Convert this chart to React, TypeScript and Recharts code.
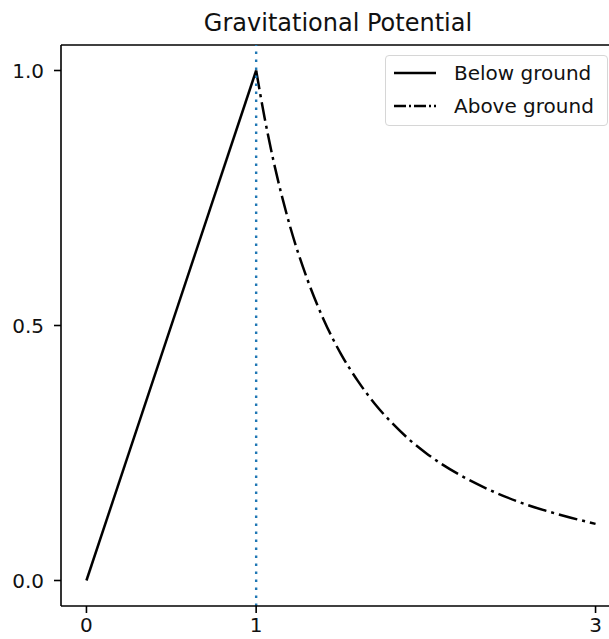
import { Legend, Line, LineChart, ReferenceLine, XAxis, YAxis } from "recharts";

const title = "Gravitational Potential";
const seriesNames = ["Below ground", "Above ground"];

// inside the body: straight line from the centre to the surface
const belowX = [0, 1];
const belowY = [0, 1];

// outside: falls off with distance
const aboveX = [1, 1.05, 1.1, 1.15, 1.2, 1.3, 1.4, 1.5, 1.6, 1.7, 1.8, 1.9, 2.0, 2.2, 2.4, 2.6, 2.8, 3.0];
const aboveY = [1, 0.907, 0.826, 0.756, 0.694, 0.592, 0.51, 0.444, 0.391, 0.346, 0.309, 0.277, 0.25, 0.207, 0.174, 0.148, 0.128, 0.111];

const xTicks = [0, 1, 3];
const yTicks = [0, 0.5, 1];

const font = "'DejaVu Sans', sans-serif";
const dashDot = "19 5 3 5";

const belowData = belowX.map((x, i) => ({ x, below: belowY[i] }));
const aboveData = aboveX.map((x, i) => ({ x, above: aboveY[i] }));

function LegendBox() {
  const rows = [
    { name: seriesNames[0], dash: undefined },
    { name: seriesNames[1], dash: "12 3 2 3" },
  ];
  return (
    <div
      style={{
        width: 223,
        height: 71,
        boxSizing: "border-box",
        border: "1.5px solid #d6d6d6",
        borderRadius: 4,
        background: "rgba(255,255,255,0.8)",
        fontFamily: font,
        fontSize: 20,
        color: "#111",
        position: "relative",
      }}
    >
      {rows.map((r, i) => (
        <div
          key={r.name}
          style={{ position: "absolute", left: 0, top: 4 + i * 33, height: 26, width: "100%" }}
        >
          <svg width={60} height={26} style={{ position: "absolute", left: 0, top: 0 }}>
            <line x1={8} x2={50} y1={13} y2={13} stroke="#000" strokeWidth={2.5} strokeDasharray={r.dash} />
          </svg>
          <span style={{ position: "absolute", left: 68, top: 0, lineHeight: "26px", whiteSpace: "nowrap" }}>
            {r.name}
          </span>
        </div>
      ))}
    </div>
  );
}

export default function App() {
  return (
    <div
      style={{
        position: "fixed",
        left: 0,
        top: 0,
        width: 609,
        height: 639,
        overflow: "hidden",
        background: "#fff",
      }}
    >
      <div
        style={{
          position: "absolute",
          left: 338,
          top: 11,
          transform: "translateX(-50%)",
          fontFamily: font,
          fontSize: 24,
          lineHeight: "24px",
          whiteSpace: "nowrap",
          color: "#111",
        }}
      >
        {title}
      </div>
      <LineChart width={650} height={639} margin={{ top: 45, right: 29, left: 0, bottom: 0 }}>
        <XAxis
          dataKey="x"
          type="number"
          domain={[-0.15, 3.15]}
          ticks={xTicks}
          interval={0}
          height={33}
          tickSize={7}
          tickMargin={5}
          stroke="#000"
          axisLine={{ stroke: "#000", strokeWidth: 1.6 }}
          tickLine={{ stroke: "#000", strokeWidth: 1.6 }}
          tick={{ fontSize: 20, fill: "#111", fontFamily: font }}
        />
        <YAxis
          type="number"
          domain={[-0.05, 1.05]}
          ticks={yTicks}
          interval={0}
          width={61}
          tickSize={7}
          tickMargin={10}
          stroke="#000"
          axisLine={{ stroke: "#000", strokeWidth: 1.6 }}
          tickLine={{ stroke: "#000", strokeWidth: 1.6 }}
          tick={{ fontSize: 20, fill: "#111", fontFamily: font }}
          tickFormatter={(v: number) => v.toFixed(1)}
        />
        <ReferenceLine y={1.05} stroke="#000" strokeWidth={1.6} />
        <Line
          data={belowData}
          dataKey="below"
          name={seriesNames[0]}
          type="linear"
          stroke="#000"
          strokeWidth={2.5}
          dot={false}
          isAnimationActive={false}
        />
        <Line
          data={aboveData}
          dataKey="above"
          name={seriesNames[1]}
          type="monotone"
          stroke="#000"
          strokeWidth={2.5}
          strokeDasharray={dashDot}
          dot={false}
          isAnimationActive={false}
        />
        <ReferenceLine x={1} stroke="#1f77b4" strokeWidth={2.4} strokeDasharray="2.5 5.5" />
        <Legend
          layout="vertical"
          align="center"
          verticalAlign="middle"
          content={() => <LegendBox />}
          wrapperStyle={{ position: "absolute", left: 385, top: 55, width: 223, height: 71 }}
        />
      </LineChart>
    </div>
  );
}
